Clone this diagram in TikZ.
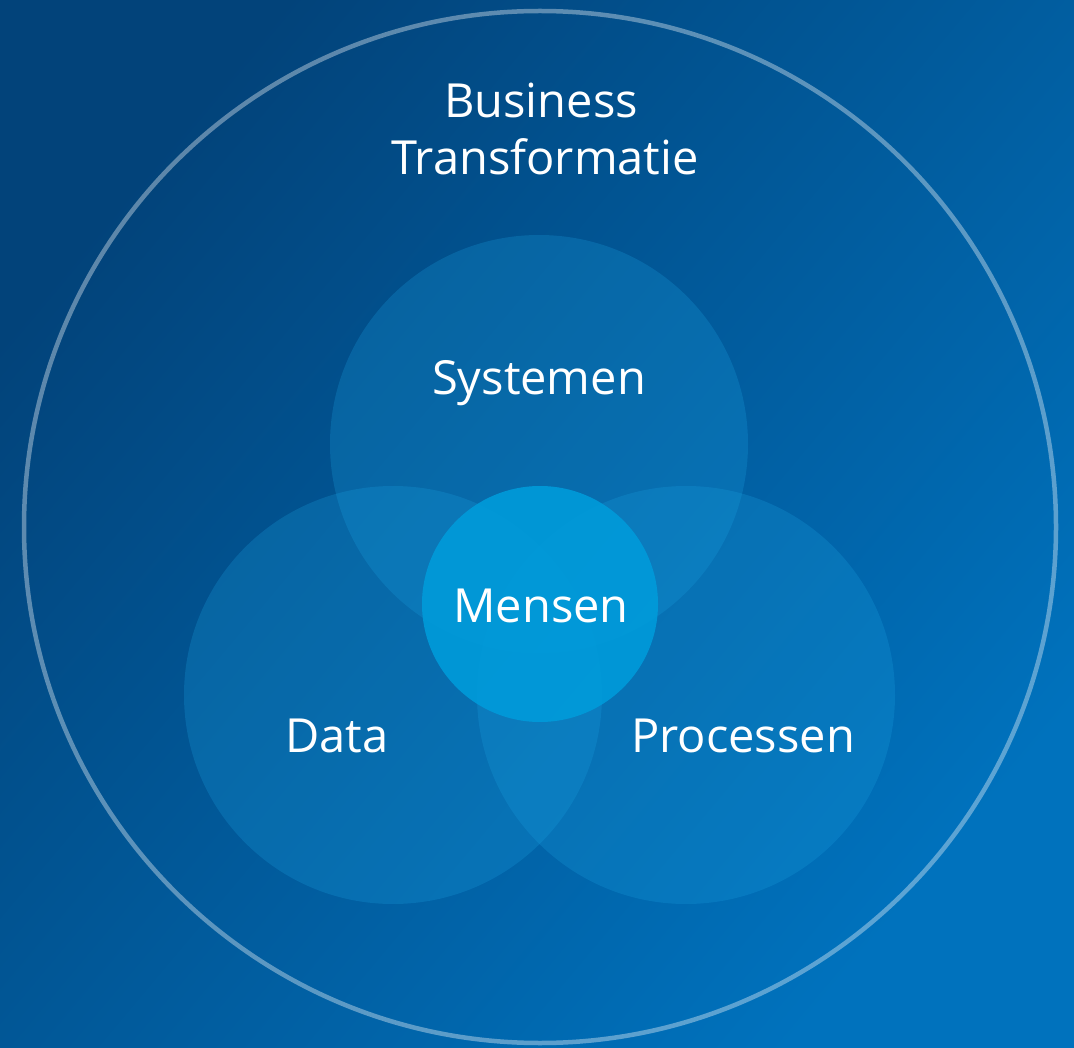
\documentclass[tikz,border=0pt]{standalone}
\usepackage{fontspec}
\setmainfont{Open Sans}
\definecolor{bgA}{HTML}{02437A}
\definecolor{bgB}{HTML}{0072BD}
\definecolor{petal}{HTML}{1AA0E0}
\definecolor{core}{HTML}{009BDA}
\begin{document}
\begin{tikzpicture}[x=1pt,y=-1pt,
  petal/.style={circle,fill=petal,fill opacity=0.26,inner sep=0pt,minimum size=418pt},
  lbl/.style={text=white,font=\fontsize{47}{57}\selectfont,align=center}]
\shade[top color=bgA,bottom color=bgB,shading angle=50] (0,0) rectangle (1074,1048);
\useasboundingbox (0,0) rectangle (1074,1048);
\node[circle,draw=white,draw opacity=0.36,line width=4.5pt,minimum size=1032pt,inner sep=0pt] (outer) at (540,527) {};
\node[petal] (sys) at (539,444) {};
\node[petal] (data) at (393,695) {};
\node[petal] (proc) at (686,695) {};
\node[circle,fill=core,fill opacity=0.9,inner sep=0pt,minimum size=236pt] (mens) at (540,604) {};
\node[lbl,anchor=base] (tbt) at (541,118) {Business};
\node[lbl,anchor=base] (tbt2) at (545,175) {Transformatie};
\node[lbl,anchor=base] (tsys) at (539,395) {Systemen};
\node[lbl,anchor=base] (tmen) at (541,622) {Mensen};
\node[lbl,anchor=base] (tdat) at (337,752) {Data};
\node[lbl,anchor=base] (tpro) at (743,752) {Processen};
\end{tikzpicture}
\end{document}
